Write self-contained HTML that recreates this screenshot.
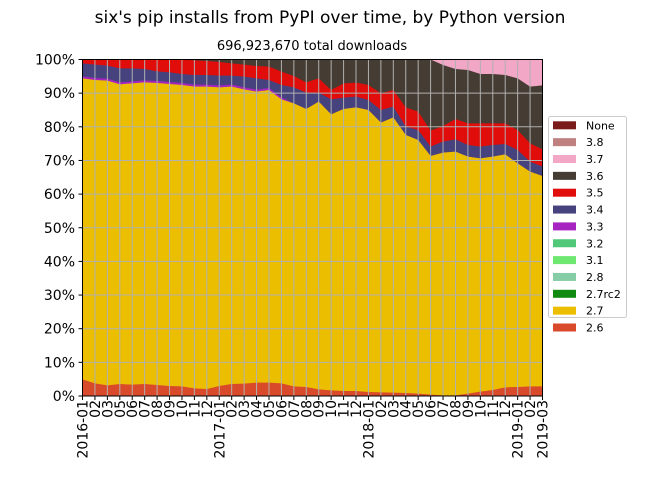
<!DOCTYPE html>
<html><head><meta charset="utf-8"><style>
html,body{margin:0;padding:0;background:#fff;}
svg text{font-family:"DejaVu Sans","Liberation Sans",sans-serif;fill:#000;}
</style></head><body>
<svg id="s" width="660" height="495" viewBox="0 0 660 495" xmlns="http://www.w3.org/2000/svg">
<text x="330" y="23" font-size="17" text-anchor="middle">six's pip installs from PyPI over time, by Python version</text>
<text x="312" y="50" font-size="13" text-anchor="middle">696,923,670 total downloads</text>
<g id="plot"></g>
<g id="grid" stroke="#b0b0b0" stroke-width="1"></g>
<rect x="82.5" y="59.5" width="460" height="336.5" fill="none" stroke="#000" stroke-width="1"/>
<g id="yt" font-size="14" text-anchor="end"></g>
<g id="xt" font-size="14" text-anchor="end"></g>
<g id="leg">
<rect x="548.5" y="116.5" width="78" height="201" fill="#fff" stroke="#ccc" rx="2"/>
</g>
</svg>
<script>
var ns="http://www.w3.org/2000/svg";
function el(p,t,a,txt){var e=document.createElementNS(ns,t);for(var k in a)e.setAttribute(k,a[k]);if(txt!==undefined)e.textContent=txt;p.appendChild(e);return e;}
var X0=82.5,DX=460/37,B=396,T=59.5;
function xs(i){return X0+i*DX;}
function Z1(z){return 50+z/3;} function Z2(z){return 340+z/3;}
var yel=[85,90,92,103,100,97,99,102,105,110,110,112,110,118,125,120,148,160,177,155,193,177,172,180,218,202,255,270,318,308,305,320,325,320,313,340,365,378].map(Z1);
var org=[118,130,136,132,134,132,135,138,139,145,147,138,132,131,128,128,130,139,141,148,151,153,153,156,157,158,159,161,164,166,166,161,155,150,142,141,139,139].map(Z2);
var blu=[40,44,47,55,55,57,64,67,72,75,75,77,77,80,85,90,105,112,128,128,148,143,140,150,180,170,230,240,290,275,268,285,290,285,282,300,335,350].map(Z1);
var red=[28,28,28,28,28,28,28,28,29,31,33,36,40,44,48,50,65,78,97,85,120,100,98,105,130,120,172,185,242,228,207,220,220,220,220,240,280,298].map(Z1);
var pink=[28,28,28,28,28,28,28,28,28,28,28,28,28,28,28,28,28,28,28,28,28,28,28,28,28,28,28,28,28,45,57,60,72,72,75,85,110,106].map(Z1);
var pur=yel.map(function(v,i){return i<=16?v-2:v;});
var P=document.getElementById('plot');
function area(top,c){var pts=[];for(var i=0;i<38;i++)pts.push(xs(i)+','+Math.max(T,top[i]));pts.push(xs(37)+','+B);pts.push(xs(0)+','+B);el(P,'polygon',{points:pts.join(' '),fill:c});}
el(P,'rect',{x:X0,y:T,width:460,height:B-T,fill:'#f2a7c6'});
area(pink,'#453c33');area(red,'#e00d0b');area(blu,'#45427e');area(pur,'#a624c0');area(yel,'#ebbf00');area(org,'#d94a2a');
var G=document.getElementById('grid'),YT=document.getElementById('yt'),XT=document.getElementById('xt');
for(var k=0;k<=10;k++){var y=B-k*(B-T)/10;if(k>0&&k<10)el(G,'line',{x1:X0,x2:X0+460,y1:y,y2:y});el(G,'line',{x1:X0-4,x2:X0,y1:y,y2:y,stroke:'#000'});el(YT,'text',{x:75,y:y+5},(k*10)+'%');}
var labs=['2016-01','02','03','05','06','07','08','09','10','11','12','2017-01','02','03','04','05','06','07','08','09','10','11','12','2018-01','02','03','04','05','06','07','08','09','10','11','12','2019-01','02','2019-03'];
for(var i=0;i<38;i++){var x=xs(i);if(i>0&&i<37)el(G,'line',{x1:x,x2:x,y1:T,y2:B});el(G,'line',{x1:x,x2:x,y1:B,y2:B+4,stroke:'#000'});el(XT,'text',{x:0,y:0,transform:'translate('+(x+5)+',400) rotate(-90)'},labs[i]);}
var L=document.getElementById('leg');
var items=[['None','#7a1c1c'],['3.8','#c08080'],['3.7','#f2a7c6'],['3.6','#453c33'],['3.5','#e00d0b'],['3.4','#45427e'],['3.3','#a624c0'],['3.2','#50c878'],['3.1','#6ee870'],['2.8','#86cca4'],['2.7rc2','#108a10'],['2.7','#ebbf00'],['2.6','#d94a2a']];
items.forEach(function(it,j){var y=125.3+j*16.85;el(L,'rect',{x:553,y:y-4,width:23,height:8,fill:it[1]});el(L,'text',{x:586,y:y+4,'font-size':11},it[0]);});
</script>
</body></html>
